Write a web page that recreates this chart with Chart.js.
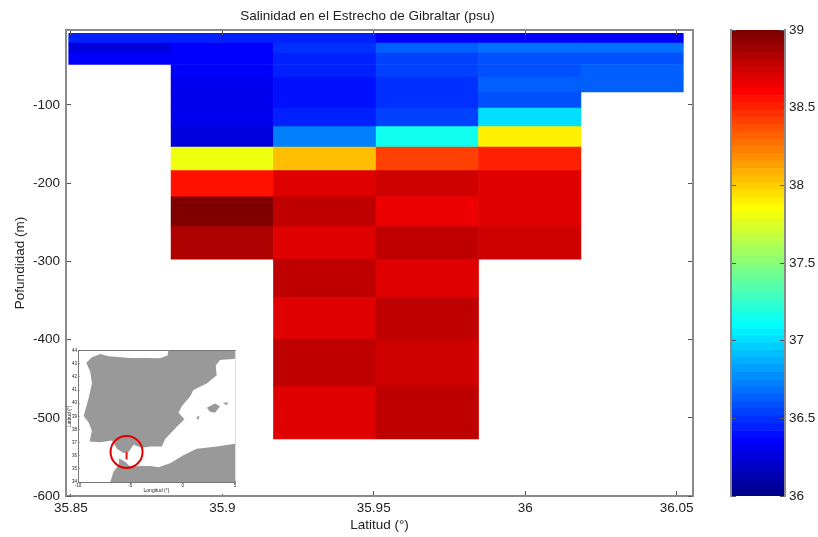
<!DOCTYPE html>
<html>
<head>
<meta charset="utf-8">
<title>Salinidad en el Estrecho de Gibraltar</title>
<script src="https://cdn.jsdelivr.net/npm/chart.js@4"></script>
<style>
  html, body { margin: 0; background: #fff; }
  canvas { position: absolute; }
  #mainChart { left: 0; top: 0; }
  #barChart { left: 700px; top: 0; }
  #mapChart { left: 67px; top: 345px; background: #fff; }
</style>
</head>
<body>
<canvas id="mainChart" width="735" height="537"></canvas>
<canvas id="barChart" width="118" height="537"></canvas>
<canvas id="mapChart" width="173" height="149"></canvas>
<script>
// ------------------------------
// DATA
// ------------------------------
const latitudes = [35.8662, 35.9, 35.9338, 35.9677, 36.0015, 36.0353];
const depthEdges = [-8.3, -20.7, -33.5, -48.2, -64.6, -83.4, -103.8, -127.7, -153.7, -184, -217.3, -255.6, -297.3, -345.9, -399.6, -460.2, -527];
// one row per depth layer, one column per latitude
const salinity = [
  [36.45, 36.45, 36.45, 36.35, 36.35, 36.35],
  [36.26, 36.35, 36.49, 36.63, 36.68, 36.68],
  [36.35, 36.35, 36.45, 36.54, 36.59, 36.59],
  [null, 36.35, 36.45, 36.54, 36.59, 36.63],
  [null, 36.31, 36.4, 36.49, 36.63, 36.63],
  [null, 36.31, 36.4, 36.49, 36.59, null],
  [null, 36.31, 36.45, 36.54, 37.01, null],
  [null, 36.26, 36.73, 37.15, 37.9, null],
  [null, 37.8, 38.04, 38.41, 38.51, null],
  [null, 38.56, 38.7, 38.74, 38.7, null],
  [null, 38.98, 38.79, 38.65, 38.7, null],
  [null, 38.84, 38.7, 38.79, 38.74, null],
  [null, null, 38.79, 38.7, null, null],
  [null, null, 38.7, 38.79, null, null],
  [null, null, 38.79, 38.74, null, null],
  [null, null, 38.7, 38.79, null, null]
];
const latTicks = [35.85, 35.9, 35.95, 36, 36.05];
const depthTicks = [-100, -200, -300, -400, -500, -600];
const colorbarTicks = [36, 36.5, 37, 37.5, 38, 38.5, 39];

// inset map, lon / lat
const iberiaLon = [-9.21, -8.67, -7.87, -7.08, -5.01, -3.42, -2.15, -1.45, -1.36, 5, 5, 3.57, 3.16, 3.25, 2.3, 1.03, 0.71, -0.09, -0.4, 0.17, -0.56, -1.67, -1.99, -3.1, -3.9, -4.69, -5.17, -5.65, -6.28, -6.76, -7.87, -8.89, -8.67, -8.98, -9.46, -8.98, -8.67, -8.82];
const iberiaLat = [43.08, 43.5, 43.75, 43.58, 43.45, 43.45, 43.43, 43.63, 44, 44, 43.38, 43.3, 42.88, 42.13, 41.51, 41.01, 40.52, 39.77, 39.27, 38.78, 38.2, 37.28, 36.71, 36.71, 36.61, 36.84, 36.29, 36.21, 36.54, 37.16, 37.03, 37.08, 37.91, 38.53, 39.02, 40.39, 41.51, 42.38];
const africaLon = [-6.92, -6.6, -6.12, -6.06, -5.49, -5.01, -4.22, -3.1, -2.31, -1.2, 0.07, 1.34, 3.25, 5, 5];
const africaLat = [34, 34.8, 35.29, 35.79, 35.54, 35.17, 35.22, 35.22, 35.12, 35.42, 36.04, 36.54, 36.71, 36.91, 34];
const mallorcaLon = [2.3, 3.09, 3.57, 3.09, 2.62];
const mallorcaLat = [39.65, 39.97, 39.77, 39.27, 39.35];
const menorcaLon = [3.82, 4.36, 4.2];
const menorcaLat = [40.02, 40.07, 39.85];
const ibizaLon = [1.28, 1.6, 1.5];
const ibizaLat = [38.95, 39.02, 38.7];
const sectionLon = [-5.36, -5.36];
const sectionLat = [36.29, 35.72];
const circleLon = [-5.36];
const circleLat = [36.29];
const lonTicks = [-10, -5, 0, 5];
const latMapTicks = [34, 35, 36, 37, 38, 39, 40, 41, 42, 43, 44];

// ------------------------------
// JET COLORMAP (64 levels, 36-39 psu)
// ------------------------------
const clamp01 = (v) => Math.max(0, Math.min(1, v));
function jet(level) {
  const t = level / 64;
  const r = clamp01(Math.min(4 * t - 1.5, 4.5 - 4 * t));
  const g = clamp01(Math.min(4 * t - 0.5, 3.5 - 4 * t));
  const b = clamp01(Math.min(4 * t + 0.5, 2.5 - 4 * t));
  return `rgb(${Math.round(r * 255)},${Math.round(g * 255)},${Math.round(b * 255)})`;
}
const salinityColor = (s) => jet(Math.min(64, Math.floor((s - 36) / 3 * 64) + 1));

const FONT = "'Liberation Sans', Arial, sans-serif";
const TEXT = "#222";
const BOX = "#8a8a8a";
Chart.defaults.font.family = FONT;
Chart.defaults.color = TEXT;
Chart.defaults.animation = false;

// heatmap cells as floating bars
const cells = [];
salinity.forEach((row, r) => {
  row.forEach((s, c) => {
    if (s !== null) cells.push({ x: latitudes[c], y: [depthEdges[r + 1], depthEdges[r]], s: s });
  });
});

const setTicks = (values) => (axis) => { axis.ticks = values.map((v) => ({ value: v })); };
// z: 1 keeps the ticks and the box above the bars
const inwardGrid = { drawOnChartArea: false, tickLength: -5, tickColor: "#555", tickWidth: 1, offset: false, z: 1 };
const boxBorder = { color: BOX, width: 2, z: 1 };

// ------------------------------
// SECTION PLOT
// ------------------------------
new Chart(document.getElementById("mainChart"), {
  type: "bar",
  data: {
    datasets: [{
      data: cells,
      backgroundColor: (ctx) => salinityColor(ctx.raw.s),
      borderWidth: 0,
      barPercentage: 1,
      categoryPercentage: 1
    }]
  },
  options: {
    responsive: false,
    plugins: {
      legend: { display: false },
      tooltip: { enabled: false },
      title: {
        display: true,
        text: "Salinidad en el Estrecho de Gibraltar (psu)",
        font: { size: 13.5, weight: "normal", lineHeight: 1 },
        color: TEXT,
        padding: { top: 10, bottom: 6.5 }
      }
    },
    scales: {
      x: {
        type: "linear", position: "bottom", offset: false,
        min: 35.8484, max: 36.0554,
        grid: inwardGrid, border: boxBorder,
        afterBuildTicks: setTicks(latTicks),
        afterFit: (s) => { s.height = 41; },
        ticks: { autoSkip: false, maxRotation: 0, padding: 9, font: { size: 13.5 }, callback: (v) => String(v) },
        title: { display: true, text: "Latitud (°)", font: { size: 13.5 }, padding: { top: 0, bottom: 4 } }
      },
      y: {
        type: "linear", position: "left",
        min: -600, max: -4.1,
        grid: inwardGrid, border: boxBorder,
        afterBuildTicks: setTicks(depthTicks),
        afterFit: (s) => { s.width = 66; },
        ticks: { autoSkip: false, padding: 11, font: { size: 13.5 }, callback: (v) => String(v) },
        title: { display: true, text: "Pofundidad (m)", font: { size: 13.5 }, padding: { top: 12, bottom: 12 } }
      },
      x2: {
        type: "linear", axis: "x", position: "top", offset: false,
        min: 35.8484, max: 36.0554,
        grid: inwardGrid, border: boxBorder,
        afterBuildTicks: setTicks(latTicks),
        afterFit: (s) => { s.height = 0; },
        ticks: { display: false }
      },
      y2: {
        type: "linear", axis: "y", position: "right",
        min: -600, max: -4.1,
        grid: inwardGrid, border: boxBorder,
        afterBuildTicks: setTicks(depthTicks),
        afterFit: (s) => { s.width = 42; },
        ticks: { display: false }
      }
    }
  }
});

// ------------------------------
// COLORBAR
// ------------------------------
const barLevels = Array.from({ length: 64 }, (_, i) => i + 1);
new Chart(document.getElementById("barChart"), {
  type: "bar",
  data: {
    labels: [""],
    datasets: barLevels.map((level) => ({
      data: [[36 + (level - 1) * 3 / 64, 36 + level * 3 / 64]],
      backgroundColor: jet(level),
      borderWidth: 0,
      grouped: false,
      barPercentage: 1,
      categoryPercentage: 1
    }))
  },
  options: {
    responsive: false,
    layout: { padding: { left: 31, top: 30, bottom: 41 } },
    plugins: { legend: { display: false }, tooltip: { enabled: false } },
    scales: {
      x: { display: false },
      y: {
        position: "right",
        min: 36, max: 39,
        grid: inwardGrid, border: boxBorder,
        afterBuildTicks: setTicks(colorbarTicks),
        afterFit: (s) => { s.width = 33; },
        ticks: { autoSkip: false, padding: 9, font: { size: 13.5 }, callback: (v) => String(v) }
      },
      y2: {
        type: "linear", axis: "y", position: "left",
        min: 36, max: 39,
        grid: inwardGrid, border: boxBorder,
        afterBuildTicks: setTicks(colorbarTicks),
        afterFit: (s) => { s.width = 0; },
        ticks: { display: false }
      }
    }
  }
});

// ------------------------------
// INSET MAP
// ------------------------------
const points = (xs, ys) => xs.map((x, i) => ({ x: x, y: ys[i] }));
const land = (xs, ys) => ({
  data: points(xs, ys),
  showLine: true,
  fill: "shape",
  borderWidth: 0,
  pointRadius: 0,
  backgroundColor: "#999999"
});
const smallTick = { drawOnChartArea: false, tickLength: -2, tickColor: "#666", tickWidth: 0.5 };
const smallBorder = { color: "#777", width: 1 };

new Chart(document.getElementById("mapChart"), {
  type: "scatter",
  data: {
    datasets: [
      // first dataset is painted last
      {
        data: points(circleLon, circleLat),
        pointRadius: 16,
        pointBackgroundColor: "rgba(0,0,0,0)",
        pointBorderColor: "#e00000",
        pointBorderWidth: 2
      },
      {
        data: points(sectionLon, sectionLat),
        showLine: true,
        borderColor: "#ee1111",
        borderWidth: 2,
        pointRadius: 0
      },
      land(iberiaLon, iberiaLat),
      land(africaLon, africaLat),
      land(mallorcaLon, mallorcaLat),
      land(menorcaLon, menorcaLat),
      land(ibizaLon, ibizaLat)
    ]
  },
  options: {
    responsive: false,
    layout: { autoPadding: false },
    plugins: { legend: { display: false }, tooltip: { enabled: false } },
    scales: {
      x: {
        type: "linear", min: -10, max: 5,
        grid: smallTick, border: smallBorder,
        afterBuildTicks: setTicks(lonTicks),
        afterFit: (s) => { s.height = 12; },
        ticks: { autoSkip: false, maxRotation: 0, padding: 3, font: { size: 4.5 }, callback: (v) => String(v) },
        title: { display: true, text: "Longitud (°)", font: { size: 5 }, padding: 0 }
      },
      y: {
        type: "linear", min: 34, max: 44,
        grid: smallTick, border: smallBorder,
        afterBuildTicks: setTicks(latMapTicks),
        afterFit: (s) => { s.width = 11; },
        ticks: { autoSkip: false, padding: 3, font: { size: 4.5 }, callback: (v) => String(v) },
        title: { display: true, text: "Latitud (°)", font: { size: 5 }, padding: 0 }
      },
      x2: {
        type: "linear", axis: "x", position: "top", min: -10, max: 5,
        grid: { display: false }, border: smallBorder,
        afterFit: (s) => { s.height = 3; },
        ticks: { display: false }
      },
      y2: {
        type: "linear", axis: "y", position: "right", min: 34, max: 44,
        grid: { display: false }, border: { color: "#bbb", width: 0.5 },
        afterFit: (s) => { s.width = 5; },
        ticks: { display: false }
      }
    }
  }
});
</script>
</body>
</html>
